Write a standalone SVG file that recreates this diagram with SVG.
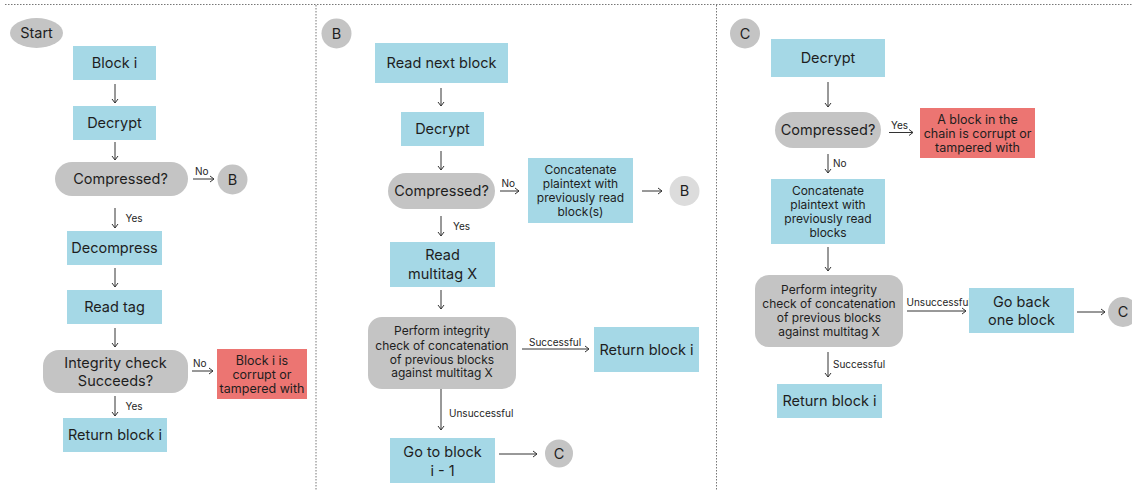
<svg xmlns="http://www.w3.org/2000/svg" width="1132" height="490" viewBox="0 0 1132 490">
  <defs>
    <marker id="arrow" viewBox="0 0 6 8" markerWidth="6" markerHeight="8" refX="5" refY="4" orient="auto" markerUnits="userSpaceOnUse">
      <path d="M1,1 L5,4 L1,7" fill="none" stroke="#333" stroke-width="1"/>
    </marker>
    <style>
      .box { fill: #a5d8e6; }
      .dec { fill: #c4c4c4; }
      .bad { fill: #ec7572; }
      .conn { fill: #c4c4c4; }
      .conn-light { fill: #dcdcdc; }
      .sep { stroke: #777; stroke-width: 1; stroke-dasharray: 1.5 1.5; fill: none; }
      .edge { stroke: #333; stroke-width: 1; fill: none; marker-end: url(#arrow); }
      text { font-family: Inter, "Noto Sans", "Liberation Sans", sans-serif; fill: #1e1e1e; text-anchor: middle; }
      .t { font-size: 14.5px; }
      .s { font-size: 12px; }
      .r { font-size: 12.5px; }
      .lbl { font-size: 10px; text-anchor: start; }
    </style>
  </defs>

  <!-- column separators -->
  <g id="separators">
    <line class="sep" x1="5" y1="4.5" x2="1132" y2="4.5"/>
    <line class="sep" x1="316" y1="5" x2="316" y2="490"/>
    <line class="sep" x1="716.5" y1="5" x2="716.5" y2="490"/>
  </g>

  <!-- connectors -->
  <g id="connectors">
    <!-- column: Start -->
    <line class="edge" x1="115" y1="84" x2="115" y2="103"/>
    <line class="edge" x1="115" y1="142" x2="115" y2="160"/>
    <line class="edge" x1="193" y1="179" x2="214" y2="179"/>
    <line class="edge" x1="115" y1="208" x2="115" y2="228"/>
    <line class="edge" x1="115" y1="268" x2="115" y2="287"/>
    <line class="edge" x1="115" y1="328" x2="115" y2="347"/>
    <line class="edge" x1="192" y1="371" x2="213" y2="371"/>
    <line class="edge" x1="115" y1="396" x2="115" y2="416"/>
    <!-- column: B -->
    <line class="edge" x1="441" y1="88" x2="441" y2="106"/>
    <line class="edge" x1="441" y1="151" x2="441" y2="170"/>
    <line class="edge" x1="500" y1="191" x2="519" y2="191"/>
    <line class="edge" x1="642" y1="191" x2="662" y2="191"/>
    <line class="edge" x1="441" y1="216" x2="441" y2="236"/>
    <line class="edge" x1="441" y1="290" x2="441" y2="309"/>
    <line class="edge" x1="522" y1="349" x2="589" y2="349"/>
    <line class="edge" x1="441" y1="389" x2="441" y2="430"/>
    <line class="edge" x1="499" y1="454" x2="537" y2="454"/>
    <!-- column: C -->
    <line class="edge" x1="828" y1="82" x2="828" y2="107"/>
    <line class="edge" x1="889" y1="132.5" x2="913" y2="132.5"/>
    <line class="edge" x1="828" y1="154" x2="828" y2="173"/>
    <line class="edge" x1="828" y1="247" x2="828" y2="271"/>
    <line class="edge" x1="907" y1="311" x2="966" y2="311"/>
    <line class="edge" x1="1077" y1="312" x2="1105" y2="312"/>
    <line class="edge" x1="828" y1="352" x2="828" y2="377"/>
  </g>

  <!-- edge labels -->
  <g id="edge-labels">
    <text class="lbl" x="195" y="175">No</text>
    <text class="lbl" x="125.5" y="222">Yes</text>
    <text class="lbl" x="193" y="367">No</text>
    <text class="lbl" x="125.5" y="410">Yes</text>
    <text class="lbl" x="501.5" y="187">No</text>
    <text class="lbl" x="453" y="230">Yes</text>
    <text class="lbl" x="529" y="346">Successful</text>
    <text class="lbl" x="449" y="416.5">Unsuccessful</text>
    <text class="lbl" x="891" y="128.5">Yes</text>
    <text class="lbl" x="833" y="167">No</text>
    <text class="lbl" x="906.5" y="305.5">Unsuccessful</text>
    <text class="lbl" x="833" y="367.5">Successful</text>
  </g>

  <!-- column: Start -->
  <g id="start">
    <ellipse class="conn" cx="36.5" cy="33" rx="26.5" ry="15"/>
    <text class="t" x="36.5" y="38.3">Start</text>
  </g>
  <g id="a-block-i">
    <rect class="box" x="73" y="46" width="83" height="34"/>
    <text class="t" x="114.5" y="68.3">Block i</text>
  </g>
  <g id="a-decrypt">
    <rect class="box" x="73" y="106" width="83" height="34"/>
    <text class="t" x="114.5" y="128.3">Decrypt</text>
  </g>
  <g id="a-compressed">
    <rect class="dec" x="55" y="162" width="133" height="34" rx="17"/>
    <text class="t" x="120.5" y="184.3">Compressed?</text>
  </g>
  <g id="a-goto-b">
    <circle class="conn" cx="232.5" cy="179.5" r="15"/>
    <text class="t" x="232.5" y="184.8">B</text>
  </g>
  <g id="a-decompress">
    <rect class="box" x="67" y="231" width="95" height="34"/>
    <text class="t" x="114.5" y="253.3">Decompress</text>
  </g>
  <g id="a-read-tag">
    <rect class="box" x="67" y="290" width="95" height="34"/>
    <text class="t" x="114.5" y="312.3">Read tag</text>
  </g>
  <g id="a-integrity">
    <rect class="dec" x="43" y="350" width="145" height="43" rx="16"/>
    <text class="t" x="115.5" y="368">Integrity check</text>
    <text class="t" x="115.5" y="385.5">Succeeds?</text>
  </g>
  <g id="a-corrupt">
    <rect class="bad" x="217" y="349" width="90" height="50"/>
    <text class="r" x="262" y="364.5">Block i is</text>
    <text class="r" x="262" y="378.5">corrupt or</text>
    <text class="r" x="262" y="392.5">tampered with</text>
  </g>
  <g id="a-return">
    <rect class="box" x="63" y="418" width="104" height="34"/>
    <text class="t" x="115" y="440.3">Return block i</text>
  </g>

  <!-- column: B -->
  <g id="b-entry">
    <circle class="conn" cx="336.5" cy="33.5" r="15"/>
    <text class="t" x="336.5" y="38.8">B</text>
  </g>
  <g id="b-read-next">
    <rect class="box" x="375" y="43" width="133" height="40"/>
    <text class="t" x="441.5" y="68.3">Read next block</text>
  </g>
  <g id="b-decrypt">
    <rect class="box" x="401" y="112" width="83" height="34"/>
    <text class="t" x="442.5" y="134.3">Decrypt</text>
  </g>
  <g id="b-compressed">
    <rect class="dec" x="388" y="173" width="107" height="36" rx="18"/>
    <text class="t" x="441.5" y="196.3">Compressed?</text>
  </g>
  <g id="b-concatenate">
    <rect class="box" x="528" y="158" width="105" height="65"/>
    <text class="s" x="580.5" y="174.4">Concatenate</text>
    <text class="s" x="580.5" y="188.2">plaintext with</text>
    <text class="s" x="580.5" y="202.2">previously read</text>
    <text class="s" x="580.5" y="216.2">block(s)</text>
  </g>
  <g id="b-loop">
    <circle class="conn-light" cx="684.5" cy="191" r="15"/>
    <text class="t" x="684.5" y="196.3">B</text>
  </g>
  <g id="b-read-multitag">
    <rect class="box" x="390" y="242" width="105" height="45"/>
    <text class="t" x="442.5" y="260.3">Read</text>
    <text class="t" x="442.5" y="278.5">multitag X</text>
  </g>
  <g id="b-check">
    <rect class="dec" x="368" y="317" width="148" height="72" rx="14"/>
    <text class="s" x="442" y="335.4">Perform integrity</text>
    <text class="s" x="442" y="349.6">check of concatenation</text>
    <text class="s" x="442" y="363.7">of previous blocks</text>
    <text class="s" x="442" y="377.4">against multitag X</text>
  </g>
  <g id="b-return">
    <rect class="box" x="594" y="327" width="105" height="45"/>
    <text class="t" x="646.5" y="354.8">Return block i</text>
  </g>
  <g id="b-goto-prev">
    <rect class="box" x="390" y="438" width="105" height="45"/>
    <text class="t" x="442.5" y="457.3">Go to block</text>
    <text class="t" x="442.5" y="475.5">i - 1</text>
  </g>
  <g id="b-goto-c">
    <circle class="conn" cx="559" cy="453.5" r="14"/>
    <text class="t" x="559" y="458.8">C</text>
  </g>

  <!-- column: C -->
  <g id="c-entry">
    <circle class="conn" cx="745" cy="33.5" r="15"/>
    <text class="t" x="745" y="38.8">C</text>
  </g>
  <g id="c-decrypt">
    <rect class="box" x="771" y="39" width="114" height="38"/>
    <text class="t" x="828" y="63.3">Decrypt</text>
  </g>
  <g id="c-compressed">
    <rect class="dec" x="775" y="112" width="106" height="36" rx="18"/>
    <text class="t" x="828" y="135.3">Compressed?</text>
  </g>
  <g id="c-corrupt">
    <rect class="bad" x="920" y="108" width="115" height="50"/>
    <text class="r" x="977.5" y="123.5">A block in the</text>
    <text class="r" x="977.5" y="137.5">chain is corrupt or</text>
    <text class="r" x="977.5" y="151.5">tampered with</text>
  </g>
  <g id="c-concatenate">
    <rect class="box" x="771" y="179" width="114" height="65"/>
    <text class="s" x="828" y="195.4">Concatenate</text>
    <text class="s" x="828" y="209.1">plaintext with</text>
    <text class="s" x="828" y="223.1">previously read</text>
    <text class="s" x="828" y="237.1">blocks</text>
  </g>
  <g id="c-check">
    <rect class="dec" x="755" y="275" width="148" height="72" rx="14"/>
    <text class="s" x="829" y="294.4">Perform integrity</text>
    <text class="s" x="829" y="308.1">check of concatenation</text>
    <text class="s" x="829" y="322.4">of previous blocks</text>
    <text class="s" x="829" y="336.4">against multitag X</text>
  </g>
  <g id="c-go-back">
    <rect class="box" x="969" y="288" width="105" height="45"/>
    <text class="t" x="1021.5" y="307.3">Go back</text>
    <text class="t" x="1021.5" y="325.3">one block</text>
  </g>
  <g id="c-loop">
    <circle class="conn" cx="1123" cy="312" r="15"/>
    <text class="t" x="1123" y="317.3">C</text>
  </g>
  <g id="c-return">
    <rect class="box" x="777" y="384" width="105" height="34"/>
    <text class="t" x="829.5" y="406.3">Return block i</text>
  </g>
</svg>
